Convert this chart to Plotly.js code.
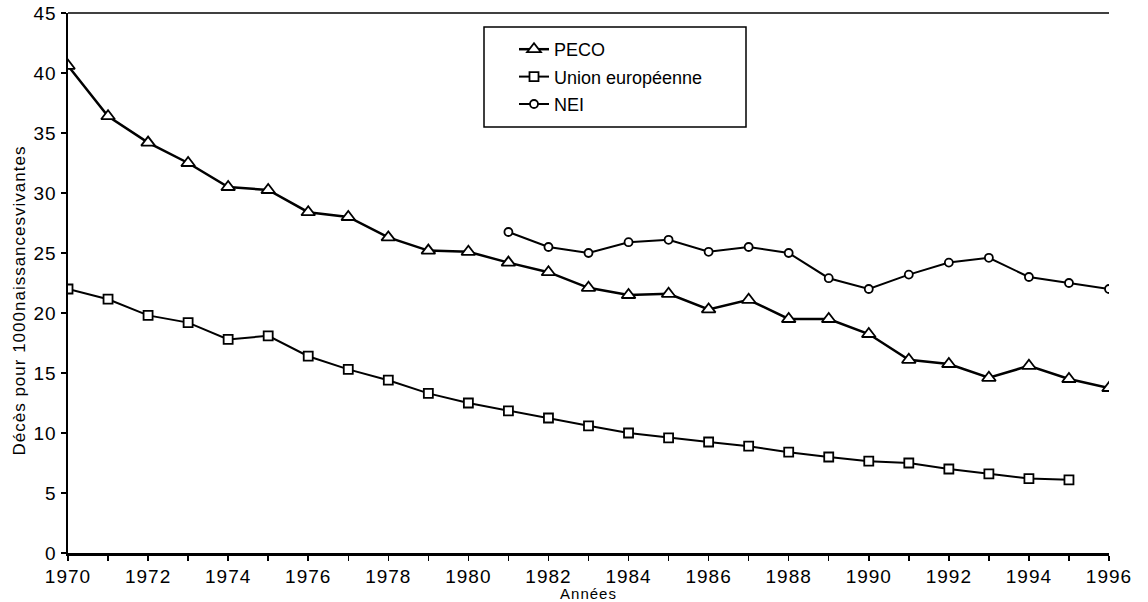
<!DOCTYPE html>
<html><head><meta charset="utf-8">
<script src="https://cdn.plot.ly/plotly-3.0.1.min.js"></script>
<style>body{margin:0;background:#fff}#c{width:1148px;height:602px}
#c .annotation-text, #c .xtitle, #c .xtick text, #c .ytick text{letter-spacing:1px}</style>
</head><body><div id="c"></div>
<script>
const years = [1970,1971,1972,1973,1974,1975,1976,1977,1978,1979,1980,1981,1982,1983,1984,1985,1986,1987,1988,1989,1990,1991,1992,1993,1994,1995,1996];
const peco = [40.6,36.4,34.2,32.5,30.5,30.25,28.4,28.0,26.3,25.2,25.1,24.2,23.4,22.1,21.5,21.6,20.3,21.1,19.5,19.5,18.25,16.1,15.75,14.6,15.6,14.5,13.75];
const euYears = [1970,1971,1972,1973,1974,1975,1976,1977,1978,1979,1980,1981,1982,1983,1984,1985,1986,1987,1988,1989,1990,1991,1992,1993,1994,1995];
const eu = [22.0,21.15,19.8,19.2,17.8,18.1,16.4,15.3,14.4,13.3,12.5,11.85,11.25,10.6,10.0,9.6,9.25,8.9,8.4,8.0,7.65,7.5,7.0,6.6,6.2,6.1];
const neiYears = [1981,1982,1983,1984,1985,1986,1987,1988,1989,1990,1991,1992,1993,1994,1995,1996];
const nei = [26.75,25.5,25.0,25.9,26.1,25.1,25.5,25.0,22.9,22.0,23.2,24.2,24.6,23.0,22.5,22.0];

const fam = 'Liberation Sans, Arial, sans-serif';
const traces = [
  {x: years, y: peco, name: 'PECO', legendgroup: 'a', mode: 'lines+markers',
   line: {color: '#000', width: 2.5},
   marker: {symbol: 'triangle-up', size: 12, color: '#fff', line: {color: '#000', width: 1.8}}},
  {x: euYears, y: eu, name: 'Union européenne', legendgroup: 'b', mode: 'lines+markers',
   line: {color: '#000', width: 2},
   marker: {symbol: 'square', size: 9, color: '#fff', line: {color: '#000', width: 1.8}}},
  {x: neiYears, y: nei, name: 'NEI', legendgroup: 'c', mode: 'lines+markers',
   line: {color: '#000', width: 2},
   marker: {symbol: 'circle', size: 8, color: '#fff', line: {color: '#000', width: 1.8}}}
];
const X0 = 68, X1 = 1109, Y0 = 553, Y1 = 13;
const px = v => (v - X0) / (X1 - X0);
const py = v => (Y0 - v) / (Y0 - Y1);
const layout = {
  width: 1148, height: 602,
  margin: {l: 68, r: 39, t: 13, b: 49},
  paper_bgcolor: '#fff', plot_bgcolor: '#fff',
  font: {family: fam, color: '#000'},
  showlegend: true,
  legend: {x: px(514), y: py(31), xanchor: 'left', yanchor: 'top',
    borderwidth: 0, bgcolor: 'rgba(0,0,0,0)', traceorder: 'grouped', tracegroupgap: 1,
    font: {family: fam, size: 18, color: '#000'}},
  shapes: [
    {type: 'rect', xref: 'paper', yref: 'paper', x0: px(484), x1: px(746), y0: py(127), y1: py(27),
     line: {color: '#000', width: 1.5}, fillcolor: '#fff', layer: 'below'},
    {type: 'line', xref: 'paper', yref: 'paper', x0: 0, x1: 1, y0: 1, y1: 1,
     line: {color: '#000', width: 1.5}}
  ],
  annotations: [
    {text: 'Décès pour 1000naissancesvivantes', xref: 'paper', yref: 'paper',
     x: px(19), y: py(301), xanchor: 'center', yanchor: 'middle', textangle: -90,
     showarrow: false, font: {family: fam, size: 17, color: '#000'}}
  ],
  xaxis: {range: [1970, 1996], dtick: 2, tick0: 1970, showgrid: false, zeroline: false,
    showline: true, linecolor: '#000', linewidth: 2.5,
    ticks: 'outside', ticklen: 5, tickwidth: 1.5, tickcolor: '#000',
    minor: {dtick: 1, ticks: 'outside', ticklen: 5, tickwidth: 1.5, tickcolor: '#000'},
    tickfont: {family: fam, size: 19, color: '#000'},
    title: {text: 'Années', font: {family: fam, size: 15, color: '#000'}, standoff: 0}},
  yaxis: {range: [0, 45], dtick: 5, showgrid: false, zeroline: false,
    showline: true, linecolor: '#000', linewidth: 2.5,
    ticks: 'outside', ticklen: 5, tickwidth: 1.5, tickcolor: '#000',
    tickfont: {family: fam, size: 19, color: '#000'}}
};
Plotly.newPlot('c', traces, layout, {displayModeBar: false, staticPlot: true});
</script></body></html>
